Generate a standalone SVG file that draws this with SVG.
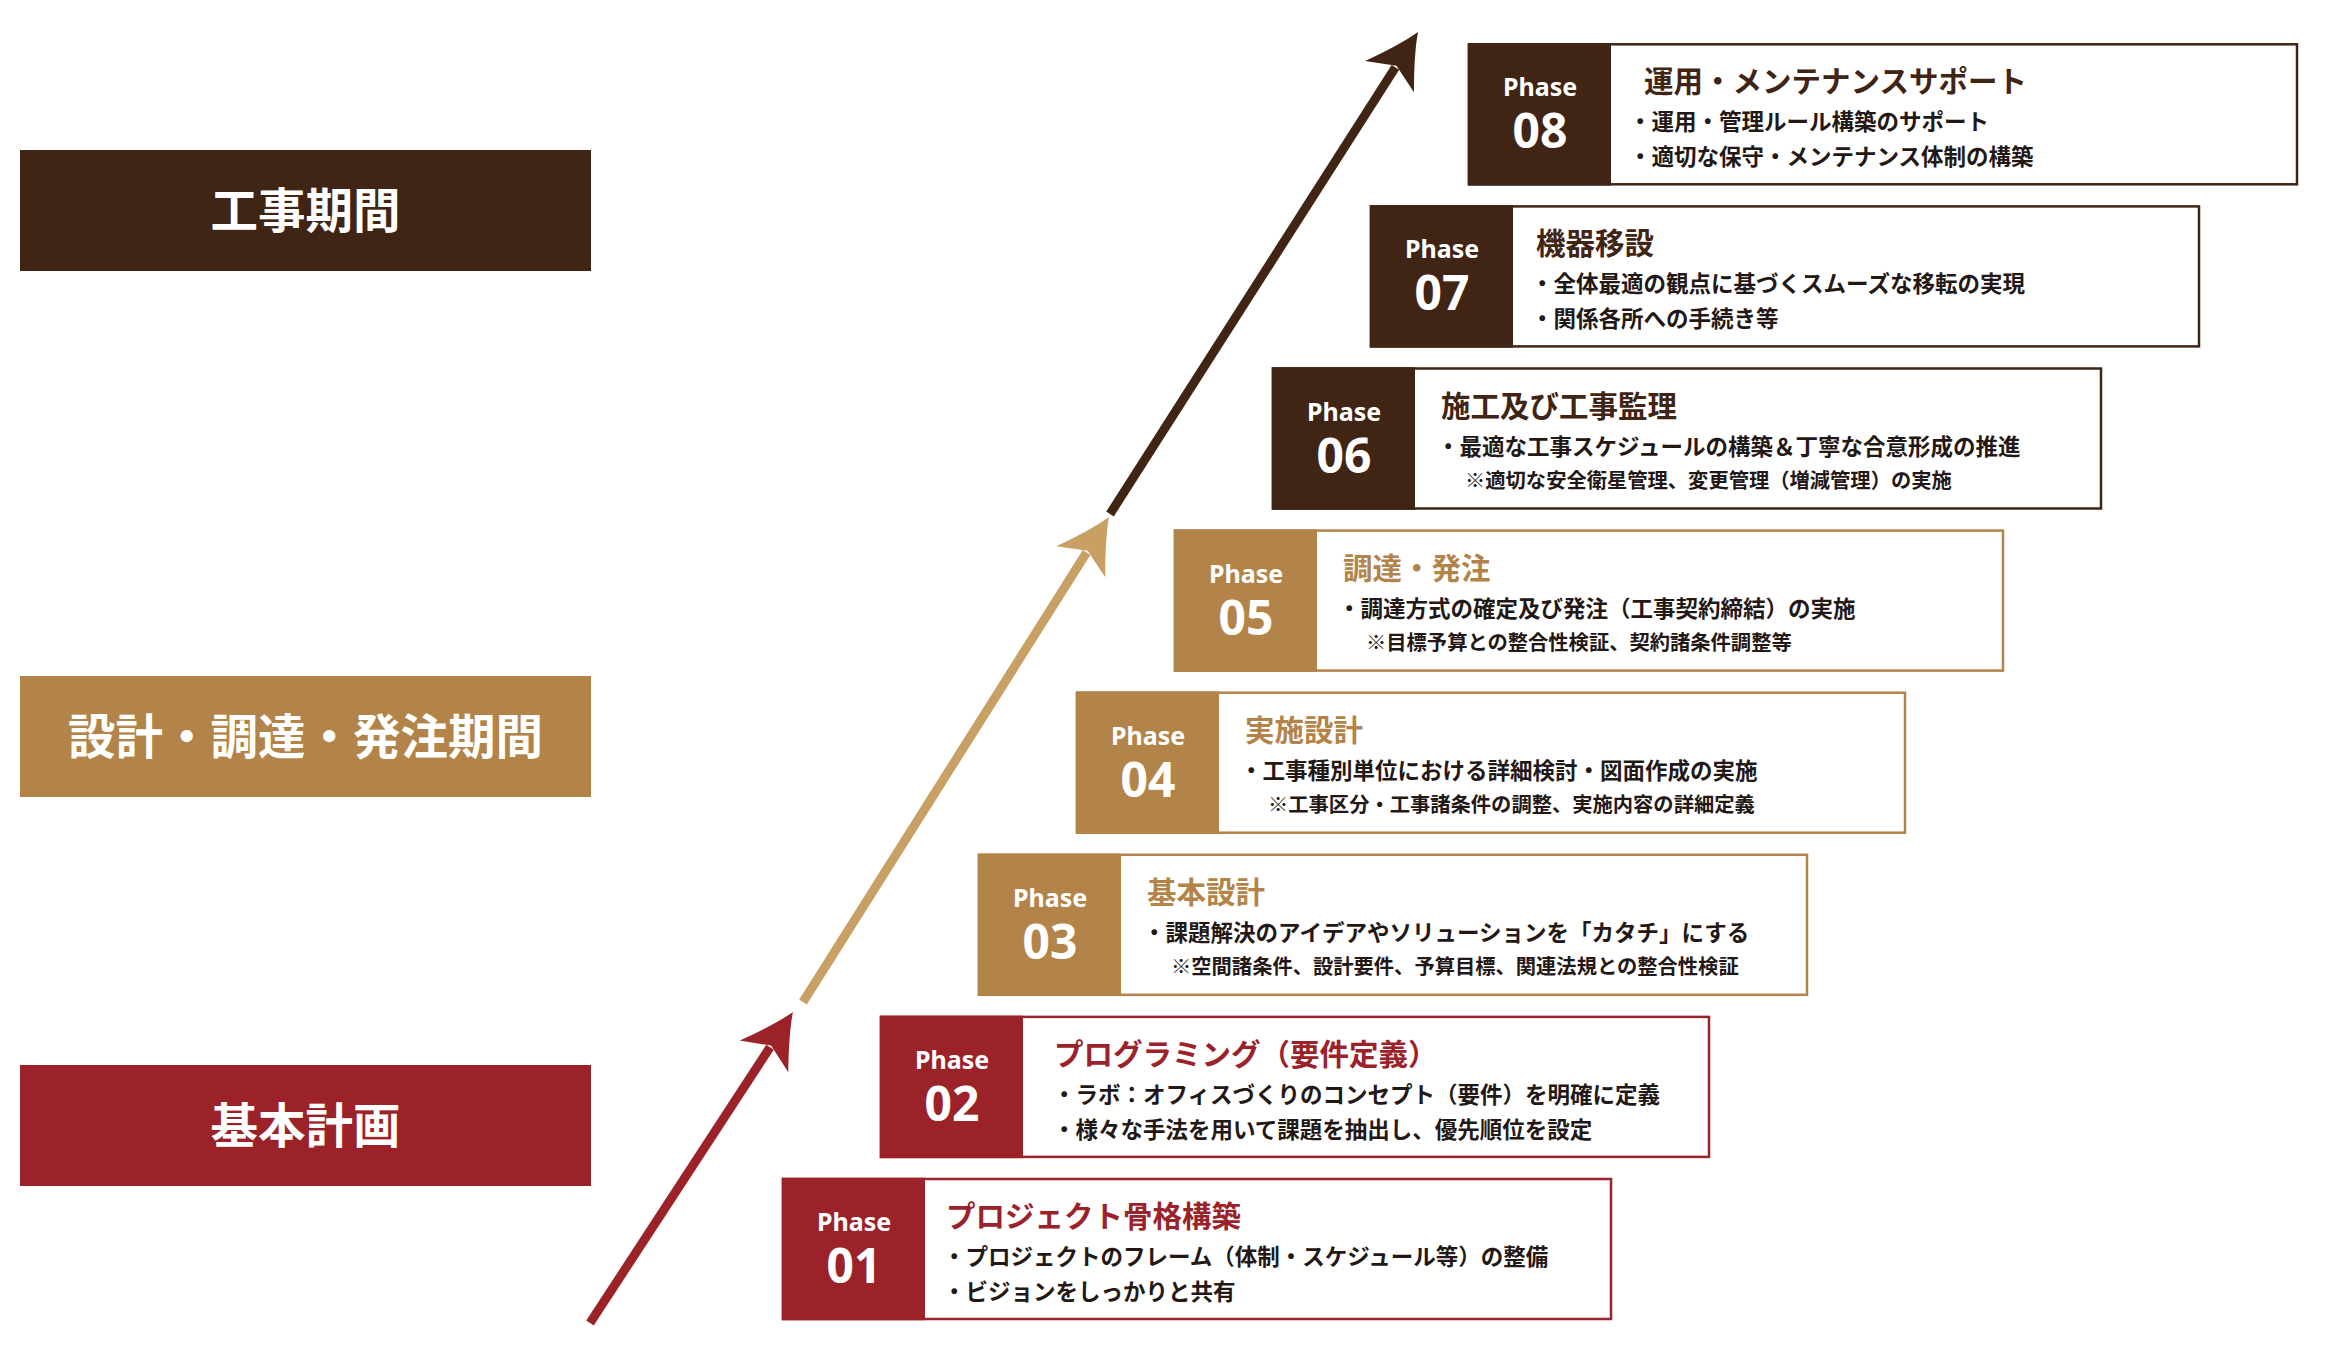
<svg xmlns="http://www.w3.org/2000/svg" width="2326" height="1357" viewBox="0 0 2326 1357">
<style>
.bg{fill:#ffffff}
.ob{fill:#ffffff;stroke-width:2.5}
.red .ob{stroke:#9b2228}.red .db{fill:#9b2228}.red .hd{fill:#9b2228}
.tan .ob{stroke:#b38449}.tan .db{fill:#b38449}.tan .hd{fill:#b38449}
.brn .ob{stroke:#402414}.brn .db{fill:#402414}.brn .hd{fill:#402414}
.ph{font-family:"Noto Sans","Open Sans",sans-serif;font-weight:700;fill:#ffffff;text-anchor:middle}
.pl{font-size:25px}
.pn{font-size:48px}
.hd{font-family:"Noto Sans CJK JP","Noto Sans CJK SC",sans-serif;font-weight:700;font-size:29.5px}
.bd{font-family:"Noto Sans CJK JP","Noto Sans CJK SC",sans-serif;font-weight:700;font-size:22.5px;fill:#231815}
.nt{font-family:"Noto Sans CJK JP","Noto Sans CJK SC",sans-serif;font-weight:700;font-size:20.3px;fill:#231815}
.lbl{font-family:"Noto Sans CJK JP","Noto Sans CJK SC",sans-serif;font-weight:700;font-size:47.5px;fill:#ffffff;text-anchor:middle}
.ln{fill:none;stroke-width:9;stroke-linecap:butt}
</style>
<defs>
<marker id="ah-red" markerUnits="userSpaceOnUse" markerWidth="60" markerHeight="64" refX="14" refY="32" orient="auto" overflow="visible">
<path d="M56,32 Q36,24 3,3 L16,32 L3,61 Q36,40 56,32 Z" fill="#9b2228"/>
</marker>
<marker id="ah-tan" markerUnits="userSpaceOnUse" markerWidth="60" markerHeight="64" refX="14" refY="32" orient="auto" overflow="visible">
<path d="M56,32 Q36,24 3,3 L16,32 L3,61 Q36,40 56,32 Z" fill="#c8a064"/>
</marker>
<marker id="ah-brn" markerUnits="userSpaceOnUse" markerWidth="60" markerHeight="64" refX="14" refY="32" orient="auto" overflow="visible">
<path d="M56,32 Q36,24 3,3 L16,32 L3,61 Q36,40 56,32 Z" fill="#402414"/>
</marker>
</defs>
<rect class="bg" x="0" y="0" width="2326" height="1357"/>

<g id="label-construction">
<rect x="20" y="150" width="571" height="121" fill="#402414"/>
<text class="lbl" x="305.5" y="228">工事期間</text>
</g>
<g id="label-design">
<rect x="20" y="676" width="571" height="121" fill="#b38449"/>
<text class="lbl" x="305.5" y="754">設計・調達・発注期間</text>
</g>
<g id="label-planning">
<rect x="20" y="1065" width="571" height="121" fill="#9b2228"/>
<text class="lbl" x="305.5" y="1143">基本計画</text>
</g>

<g id="connectors">
<line class="ln" x1="590" y1="1323" x2="770" y2="1047.2" stroke="#9b2228" marker-end="url(#ah-red)"/>
<line class="ln" x1="803" y1="1002" x2="1086.6" y2="552.5" stroke="#c8a064" marker-end="url(#ah-tan)"/>
<line class="ln" x1="1110" y1="514" x2="1395.4" y2="67.4" stroke="#402414" marker-end="url(#ah-brn)"/>
</g>

<g id="phase-01" class="red" transform="translate(783,1179)">
<rect class="ob" x="0" y="0" width="828" height="140"/>
<rect class="db" x="-1.25" y="-1.25" width="143.25" height="142.5"/>
<text class="ph pl" x="71" y="52">Phase</text>
<text class="ph pn" x="71" y="104">01</text>
<text class="hd" x="163" y="48">プロジェクト骨格構築</text>
<text class="bd" x="160" y="86">・プロジェクトのフレーム（体制・スケジュール等）の整備</text>
<text class="bd" x="160" y="121">・ビジョンをしっかりと共有</text>
</g>

<g id="phase-02" class="red" transform="translate(881,1016.9)">
<rect class="ob" x="0" y="0" width="828" height="140"/>
<rect class="db" x="-1.25" y="-1.25" width="143.25" height="142.5"/>
<text class="ph pl" x="71" y="52">Phase</text>
<text class="ph pn" x="71" y="104">02</text>
<text class="hd" x="173" y="48">プログラミング（要件定義）</text>
<text class="bd" x="172" y="86">・ラボ：オフィスづくりのコンセプト（要件）を明確に定義</text>
<text class="bd" x="172" y="121">・様々な手法を用いて課題を抽出し、優先順位を設定</text>
</g>

<g id="phase-03" class="tan" transform="translate(979,854.8)">
<rect class="ob" x="0" y="0" width="828" height="140"/>
<rect class="db" x="-1.25" y="-1.25" width="143.25" height="142.5"/>
<text class="ph pl" x="71" y="52">Phase</text>
<text class="ph pn" x="71" y="104">03</text>
<text class="hd" x="168" y="48">基本設計</text>
<text class="bd" x="164" y="86">・課題解決のアイデアやソリューションを「カタチ」にする</text>
<text class="nt" x="192" y="119">※空間諸条件、設計要件、予算目標、関連法規との整合性検証</text>
</g>

<g id="phase-04" class="tan" transform="translate(1077,692.7)">
<rect class="ob" x="0" y="0" width="828" height="140"/>
<rect class="db" x="-1.25" y="-1.25" width="143.25" height="142.5"/>
<text class="ph pl" x="71" y="52">Phase</text>
<text class="ph pn" x="71" y="104">04</text>
<text class="hd" x="168" y="48">実施設計</text>
<text class="bd" x="163" y="86">・工事種別単位における詳細検討・図面作成の実施</text>
<text class="nt" x="191" y="119">※工事区分・工事諸条件の調整、実施内容の詳細定義</text>
</g>

<g id="phase-05" class="tan" transform="translate(1175,530.6)">
<rect class="ob" x="0" y="0" width="828" height="140"/>
<rect class="db" x="-1.25" y="-1.25" width="143.25" height="142.5"/>
<text class="ph pl" x="71" y="52">Phase</text>
<text class="ph pn" x="71" y="104">05</text>
<text class="hd" x="168" y="48">調達・発注</text>
<text class="bd" x="163" y="86">・調達方式の確定及び発注（工事契約締結）の実施</text>
<text class="nt" x="191" y="119">※目標予算との整合性検証、契約諸条件調整等</text>
</g>

<g id="phase-06" class="brn" transform="translate(1273,368.5)">
<rect class="ob" x="0" y="0" width="828" height="140"/>
<rect class="db" x="-1.25" y="-1.25" width="143.25" height="142.5"/>
<text class="ph pl" x="71" y="52">Phase</text>
<text class="ph pn" x="71" y="104">06</text>
<text class="hd" x="168" y="48">施工及び工事監理</text>
<text class="bd" x="164" y="86">・最適な工事スケジュールの構築＆丁寧な合意形成の推進</text>
<text class="nt" x="192" y="119">※適切な安全衛星管理、変更管理（増減管理）の実施</text>
</g>

<g id="phase-07" class="brn" transform="translate(1371,206.4)">
<rect class="ob" x="0" y="0" width="828" height="140"/>
<rect class="db" x="-1.25" y="-1.25" width="143.25" height="142.5"/>
<text class="ph pl" x="71" y="52">Phase</text>
<text class="ph pn" x="71" y="104">07</text>
<text class="hd" x="165" y="48">機器移設</text>
<text class="bd" x="160" y="86">・全体最適の観点に基づくスムーズな移転の実現</text>
<text class="bd" x="160" y="121">・関係各所への手続き等</text>
</g>

<g id="phase-08" class="brn" transform="translate(1469,44.3)">
<rect class="ob" x="0" y="0" width="828" height="140"/>
<rect class="db" x="-1.25" y="-1.25" width="143.25" height="142.5"/>
<text class="ph pl" x="71" y="52">Phase</text>
<text class="ph pn" x="71" y="104">08</text>
<text class="hd" x="175" y="48">運用・メンテナンスサポート</text>
<text class="bd" x="160" y="86">・運用・管理ルール構築のサポート</text>
<text class="bd" x="160" y="121">・適切な保守・メンテナンス体制の構築</text>
</g>
</svg>
